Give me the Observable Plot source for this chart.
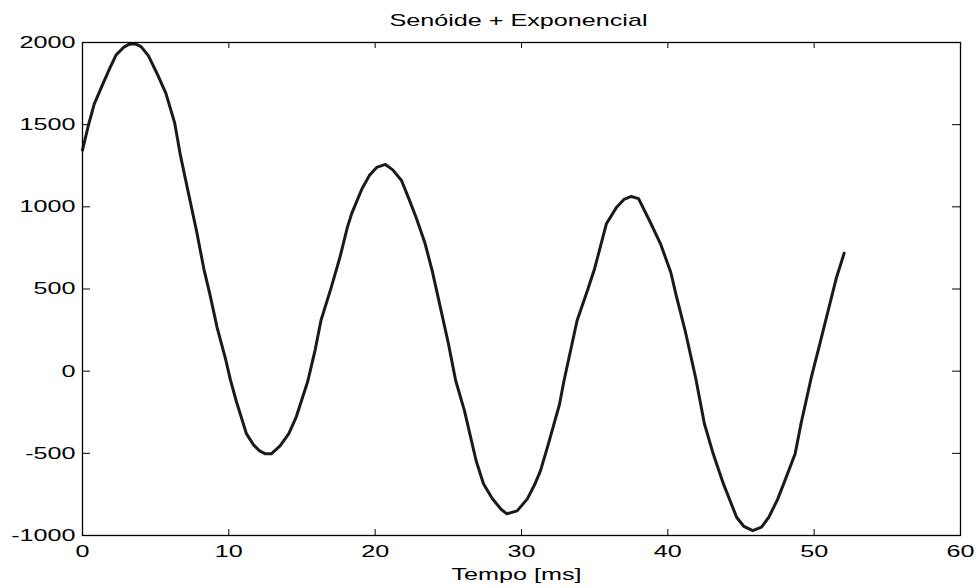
<!DOCTYPE html>
<html>
<head>
<meta charset="utf-8">
<script src="https://cdn.jsdelivr.net/npm/d3@7"></script>
<script src="https://cdn.jsdelivr.net/npm/@observablehq/plot@0.6"></script>
<style>
  html, body { margin: 0; padding: 0; background: #fff; }
</style>
</head>
<body>
<div id="chart"></div>
<script>
const titleText = "Senóide + Exponencial";
const xLabel = "Tempo [ms]";
const xTicks = [0, 10, 20, 30, 40, 50, 60];
const yTicks = [-1000, -500, 0, 500, 1000, 1500, 2000];

const tempoMs = [0,0.4,0.8,1.4,1.9,2.3,2.8,3.2,3.6,4.0,4.5,5.1,5.7,6.3,6.7,7.2,7.8,8.3,8.7,9.2,9.8,10.1,10.5,11.2,11.7,12.1,12.5,12.9,13.5,14.1,14.6,15.4,15.9,16.3,17.0,17.6,18.1,18.4,19.1,19.6,20.1,20.7,21.2,21.8,22.3,22.8,23.4,23.9,24.6,25.0,25.5,26.1,26.9,27.4,28.0,28.6,29.0,29.7,30.4,30.9,31.3,31.8,32.6,32.9,33.8,34.5,35.0,35.8,36.5,37.0,37.5,38.0,38.8,39.5,40.2,40.6,41.2,41.9,42.5,43.1,43.8,44.7,45.2,45.8,46.4,46.9,47.5,48.0,48.7,49.1,49.8,50.4,50.9,51.5,52.05];
const amplitude = [1345,1495,1625,1750,1850,1925,1970,1990,1992,1975,1920,1810,1690,1510,1310,1100,850,620,470,265,65,-50,-180,-380,-450,-485,-503,-503,-455,-380,-280,-60,130,310,510,695,875,960,1110,1190,1240,1258,1225,1160,1050,935,780,610,330,170,-57,-240,-545,-685,-775,-840,-868,-850,-777,-690,-605,-455,-200,-60,308,490,625,897,998,1045,1063,1050,906,775,602,450,240,-40,-320,-503,-686,-889,-945,-970,-949,-889,-780,-666,-503,-320,-40,170,349,562,718];

const data = tempoMs.map((t, i) => ({t, v: amplitude[i]}));

const W = 979, H = 588;
const mTop = 42, mRight = 19, mBottom = 53, mLeft = 82;
const plotW = W - mLeft - mRight, plotH = H - mTop - mBottom;

const chart = Plot.plot({
  width: W,
  height: H,
  marginTop: mTop,
  marginRight: mRight,
  marginBottom: mBottom,
  marginLeft: mLeft,
  style: {fontFamily: "'Liberation Sans', Arial, sans-serif", fontSize: "17px", background: "#fff", color: "#000"},
  x: {domain: [0, 60]},
  y: {domain: [-1000, 2000]},
  marks: [
    Plot.ruleX(xTicks, {x: d => d, insetTop: plotH - 6, stroke: "#000"}),
    Plot.ruleX(xTicks, {x: d => d, insetBottom: plotH - 6, stroke: "#000"}),
    Plot.ruleY(yTicks, {y: d => d, insetRight: plotW - 8, stroke: "#000"}),
    Plot.ruleY(yTicks, {y: d => d, insetLeft: plotW - 8, stroke: "#000"}),
    Plot.axisX({ticks: xTicks, tickSize: 0, tickPadding: 9, label: null, tickFormat: d => String(d)}),
    Plot.axisY({ticks: yTicks, tickSize: 0, tickPadding: 7, label: null, tickFormat: d => String(d)}),
    Plot.line(data, {x: "t", y: "v", stroke: "#1a1a1a", strokeWidth: 3, strokeLinejoin: "round"}),
    Plot.frame({stroke: "#000", strokeWidth: 1.3}),
    Plot.text([titleText], {frameAnchor: "top", lineAnchor: "middle", dy: -22, dx: -3, text: d => d}),
    Plot.text([xLabel], {frameAnchor: "bottom", lineAnchor: "middle", dy: 39, dx: -5, text: d => d})
  ]
});

// Stretch glyphs horizontally to match the reference's wide lettering
d3.select(chart).selectAll("text").each(function() {
  const t = this.getAttribute("transform") || "";
  this.setAttribute("transform", t + " scale(1.48,1)");
});

document.getElementById("chart").appendChild(chart);
</script>
</body>
</html>
